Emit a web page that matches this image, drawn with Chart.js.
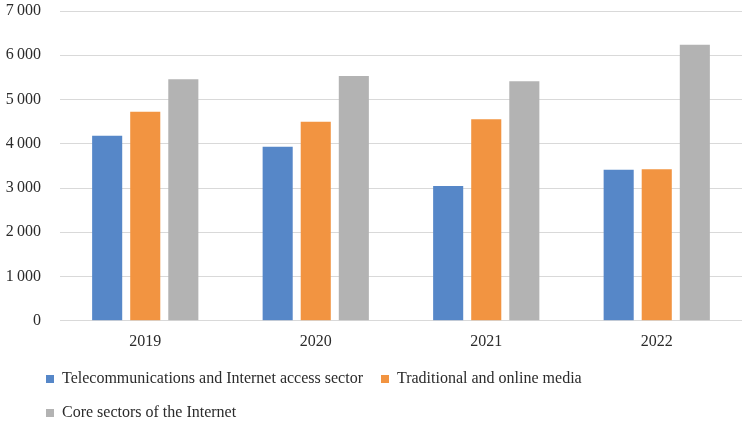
<!DOCTYPE html>
<html>
<head>
<meta charset="utf-8">
<script src="https://cdn.jsdelivr.net/npm/chart.js@4.4.0/dist/chart.umd.min.js"></script>
<style>
  html, body { margin: 0; padding: 0; background: #ffffff; }
  #wrap { width: 742px; height: 423px; position: relative; }
</style>
</head>
<body>
<div id="wrap"><canvas id="c" width="742" height="423"></canvas></div>
<script>
const categories = ['2019', '2020', '2021', '2022'];
const telecomValues = [4180, 3930, 3045, 3415];
const mediaValues = [4725, 4500, 4555, 3425];
const coreValues = [5460, 5530, 5410, 6240];
const seriesNames = [
  'Telecommunications and Internet access sector',
  'Traditional and online media',
  'Core sectors of the Internet'
];
const seriesColors = ['#5687c8', '#f29441', '#b3b3b3'];

const fontFamily = '"Liberation Serif", "Times New Roman", serif';
const textColor = '#2b2b2b';

function fmt(v) {
  return String(v).replace(/\B(?=(\d{3})+(?!\d))/g, '\u2009');
}

const legendShift = {
  id: 'legendShift',
  afterLayout(chart) {
    const lg = chart.legend;
    if (!lg) return;
    const dx = 28 - lg.left;
    const dy = 353 - lg.top;
    lg.left += dx; lg.right += dx;
    lg.top += dy; lg.bottom += dy;
    if (lg.legendHitBoxes) {
      lg.legendHitBoxes.forEach(h => { h.left += dx; h.top += dy; });
    }
  }
};

new Chart(document.getElementById('c'), {
  type: 'bar',
  data: {
    labels: categories,
    datasets: [
      { label: seriesNames[0], data: telecomValues, backgroundColor: seriesColors[0] },
      { label: seriesNames[1], data: mediaValues, backgroundColor: seriesColors[1] },
      { label: seriesNames[2], data: coreValues, backgroundColor: seriesColors[2] }
    ]
  },
  plugins: [legendShift],
  options: {
    responsive: false,
    animation: false,
    devicePixelRatio: 1,
    layout: { padding: { left: 0, right: 0, top: 11, bottom: -17 } },
    datasets: {
      bar: { categoryPercentage: 0.67, barPercentage: 0.79 }
    },
    plugins: {
      tooltip: { enabled: false },
      legend: {
        position: 'bottom',
        align: 'start',
        labels: {
          boxWidth: 8,
          boxHeight: 8,
          padding: 18,
          color: textColor,
          font: { family: fontFamily, size: 16 }
        }
      }
    },
    scales: {
      x: {
        grid: { display: false, drawTicks: false },
        border: { display: true, color: '#d9d9d9' },
        ticks: {
          color: textColor,
          padding: 11,
          font: { family: fontFamily, size: 16 }
        }
      },
      y: {
        min: 0,
        max: 7000,
        afterFit: function (scale) {
          scale.width = 60;
          scale.paddingTop = 0;
          scale.paddingBottom = 0;
        },
        grid: { color: '#d9d9d9', lineWidth: 1, drawTicks: false },
        border: { display: false },
        ticks: {
          stepSize: 1000,
          padding: 19,
          color: textColor,
          font: { family: fontFamily, size: 16 },
          callback: function (v) { return fmt(v); }
        }
      }
    }
  }
});
</script>
</body>
</html>
